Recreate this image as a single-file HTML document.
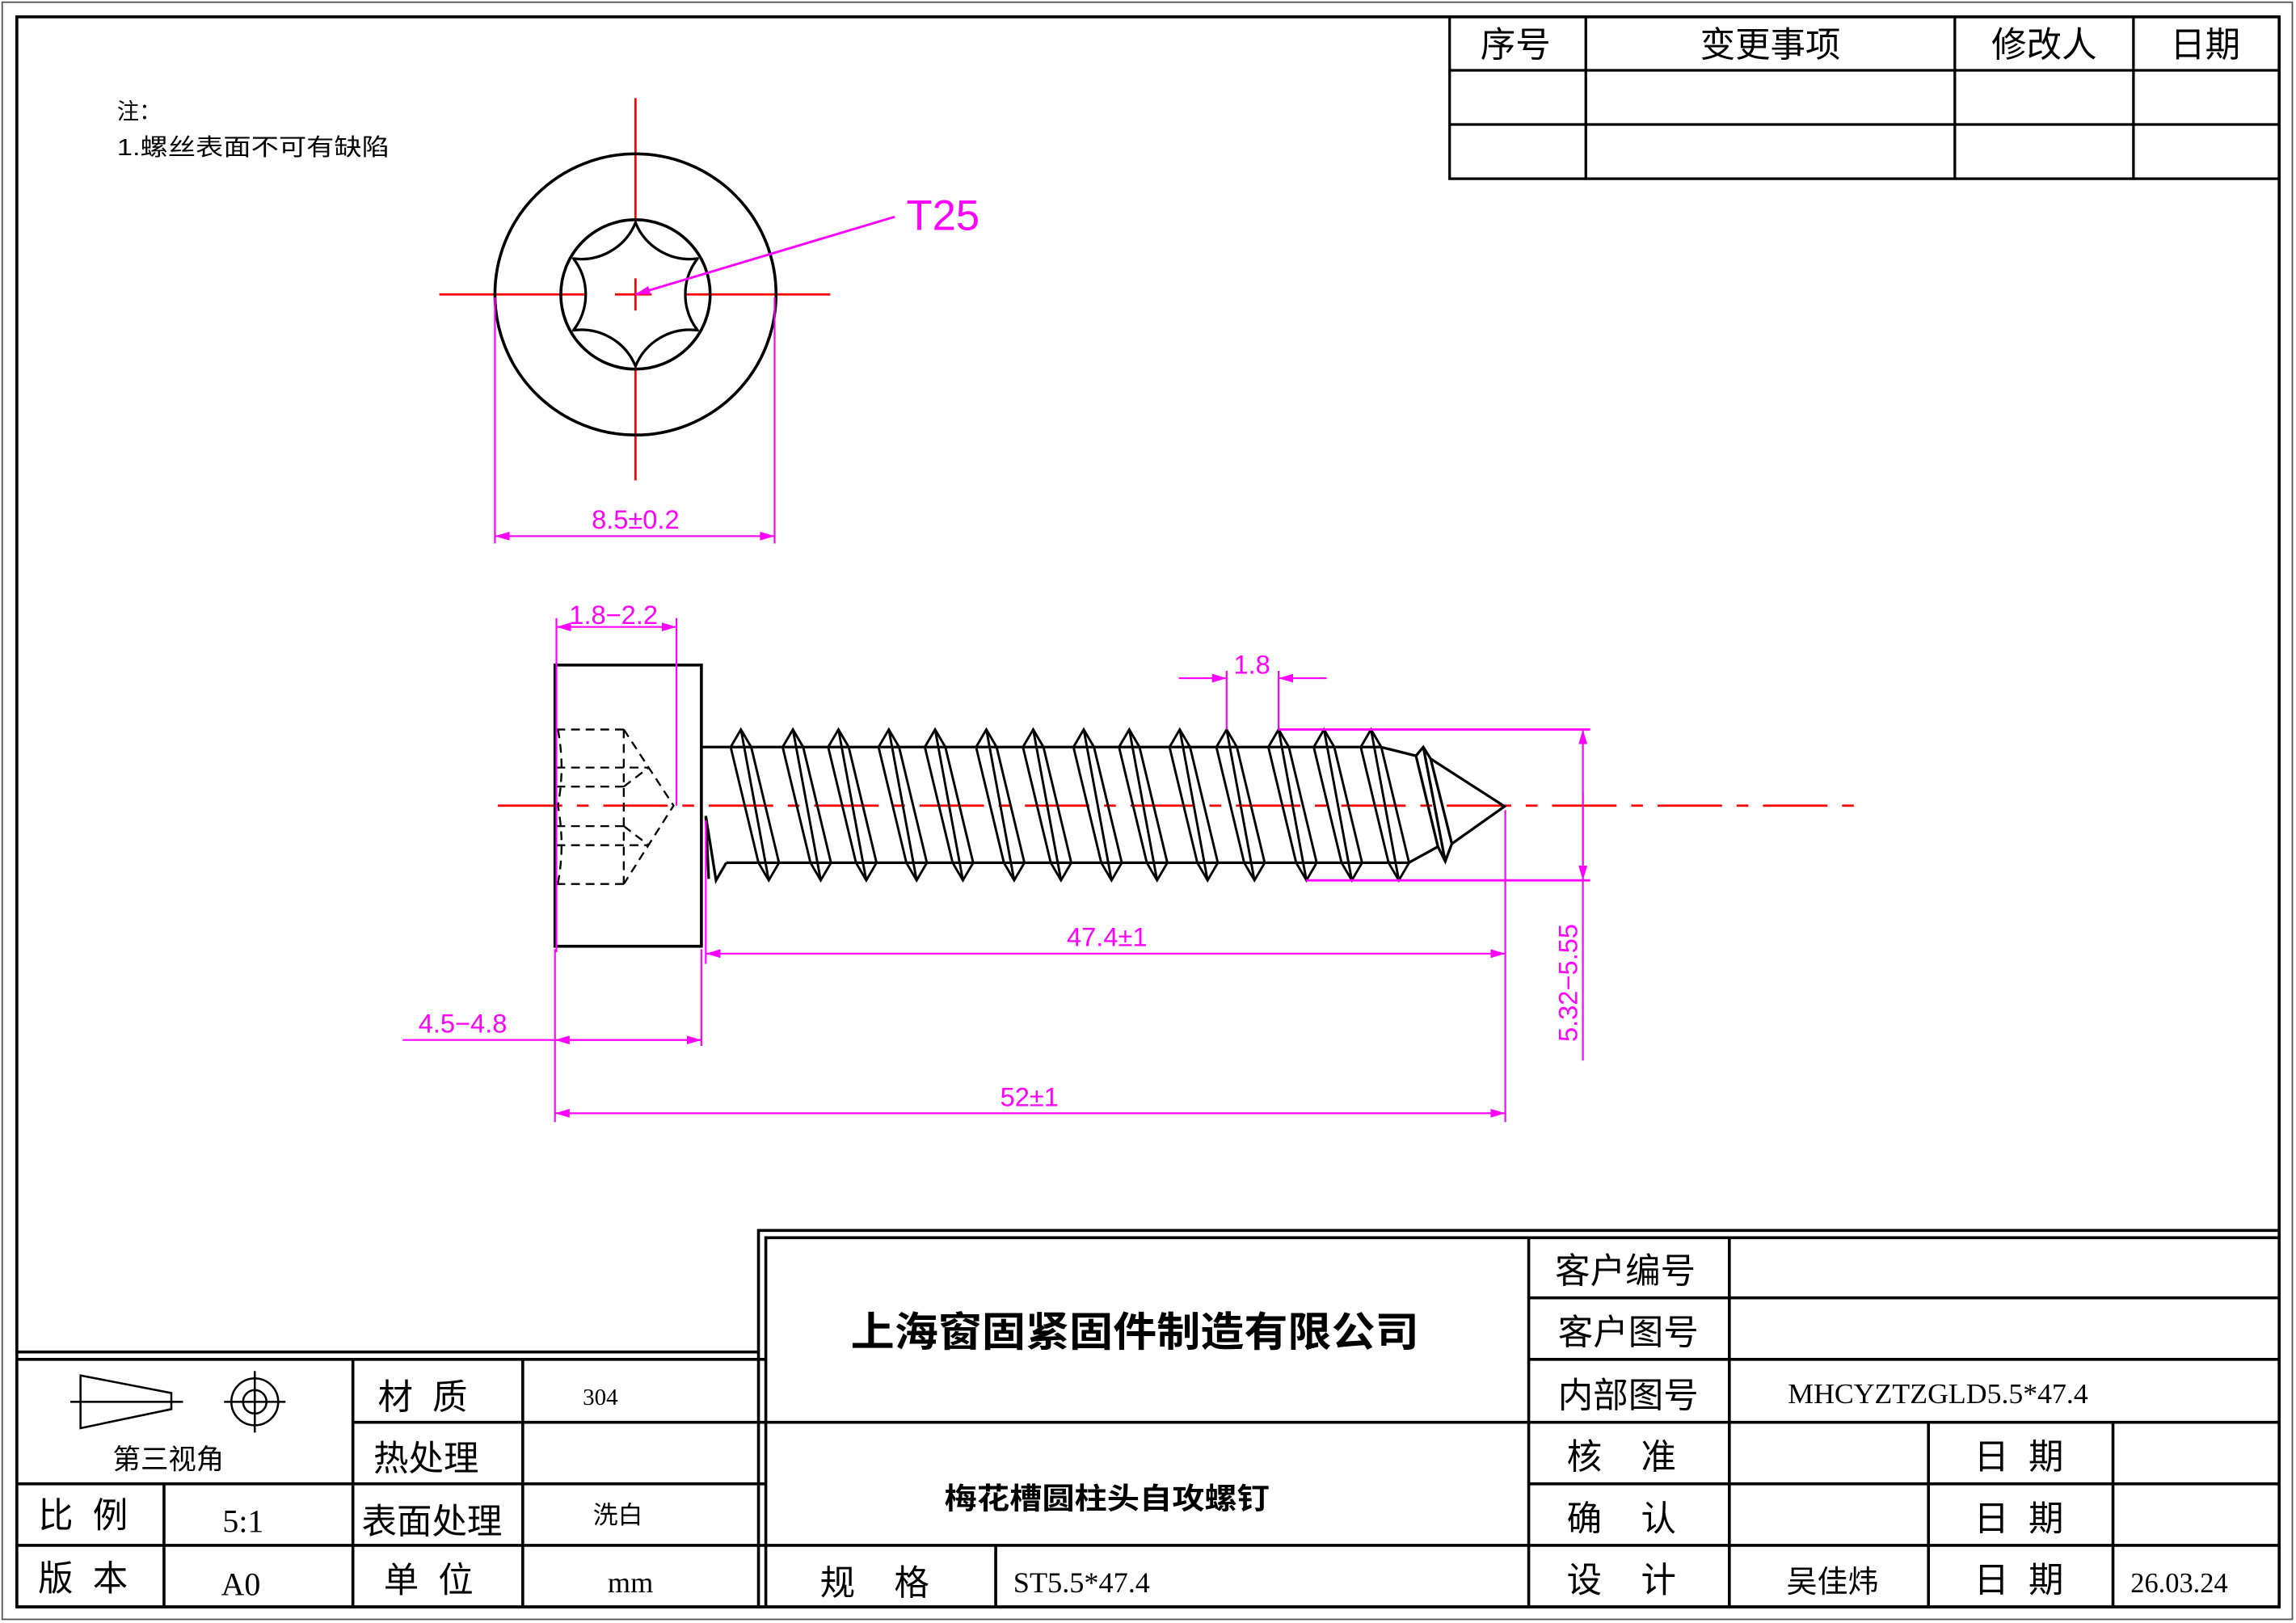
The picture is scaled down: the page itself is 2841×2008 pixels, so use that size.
<!DOCTYPE html>
<html><head><meta charset="utf-8"><style>
html,body{margin:0;padding:0;background:#fff}
svg{display:block}
text{font-family:"Liberation Serif","Noto Serif CJK SC",serif;white-space:pre}
.cn{font-family:"Liberation Sans","Noto Sans CJK SC",sans-serif}
.m{fill:#ff00ff;font-family:"Liberation Sans","DejaVu Sans",sans-serif}
</style></head><body>
<svg width="2841" height="2008" viewBox="0 0 1568 1108" preserveAspectRatio="none" xmlns="http://www.w3.org/2000/svg" xml:space="preserve">
<defs>
<path id="th" d="M-7 510 L0 498 L7 510 M12 589 L19 601 L26 589 M-7 510 L12 589 M0 498 L19 601 M7 510 L26 589" fill="none" stroke="#000" stroke-width="1.6" stroke-linejoin="miter"/>
<marker id="ar" viewBox="0 0 10 6" refX="10" refY="3" markerWidth="10" markerHeight="6" markerUnits="userSpaceOnUse" orient="auto-start-reverse"><path d="M0 0 L10 3 L0 6 Z" fill="#ff00ff"/></marker>
</defs>
<rect width="1568" height="1108" fill="#fff"/>
<rect x="1.5" y="1.5" width="1564" height="1104" fill="none" stroke="#555" stroke-width="1"/>
<rect x="11.5" y="11.5" width="1545" height="1085.5" fill="none" stroke="#000" stroke-width="2"/>

<g stroke="#000" stroke-width="1.8" fill="none">
<path d="M990 11 V122 H1557 M990 48 H1557 M990 85 H1557 M1083 11 V122 M1335 11 V122 M1457 11 V122"/>
</g>
<g font-size="24" text-anchor="middle">
<text x="1035" y="39" class="cn">序号</text>
<text x="1209" y="39" class="cn">变更事项</text>
<text x="1396" y="39" class="cn">修改人</text>
<text x="1506" y="39" class="cn">日期</text>
</g>

<text x="80" y="81" font-size="15" class="cn">注：</text>
<text x="80" y="106" font-size="16" class="cn" textLength="186" lengthAdjust="spacingAndGlyphs">1.螺丝表面不可有缺陷</text>

<g stroke="#ff0000" stroke-width="1.5">
<line x1="300" y1="201" x2="567" y2="201"/>
<line x1="434" y1="67" x2="434" y2="328"/>
</g>
<circle cx="434" cy="201" r="96" fill="none" stroke="#000" stroke-width="2"/>
<circle cx="434" cy="201" r="51" fill="none" stroke="#000" stroke-width="2"/>
<path d="M434 152 A40 40 0 0 0 476.4 176.5 A40 40 0 0 0 476.4 225.5 A40 40 0 0 0 434 250 A40 40 0 0 0 391.6 225.5 A40 40 0 0 0 391.6 176.5 A40 40 0 0 0 434 152 Z" fill="#fff" stroke="#000" stroke-width="1.8" stroke-linejoin="round"/>
<g stroke="#ff0000" stroke-width="1.5"><line x1="420" y1="201" x2="445" y2="201"/><line x1="434" y1="190" x2="434" y2="212"/></g>
<line x1="611" y1="148" x2="434" y2="201" stroke="#ff00ff" stroke-width="1.6" marker-end="url(#ar)"/>
<text x="619" y="157" class="m" font-size="29">T25</text>
<g stroke="#ff00ff" stroke-width="1.2">
<line x1="338" y1="203" x2="338" y2="371"/>
<line x1="529" y1="203" x2="529" y2="371"/>
<line x1="338" y1="366" x2="529" y2="366" marker-start="url(#ar)" marker-end="url(#ar)"/>
</g>
<text x="434" y="361" class="m" font-size="18" text-anchor="middle">8.5±0.2</text>

<line x1="340" y1="550" x2="1268" y2="550" stroke="#ff0000" stroke-width="1.5" stroke-dasharray="44 10 8 10"/>
<rect x="379" y="454" width="100" height="192" fill="none" stroke="#000" stroke-width="2"/>
<g stroke="#000" stroke-width="1.3" fill="none" stroke-dasharray="6 4">
<path d="M380 498 H426 M380 524 H443 M380 537 H426 M380 564 H426 M380 577 H443 M380 603.5 H426"/>
<path d="M426 498 L460 550 L426 603.5 M426 498 V603.5 M426 537 L443 524 M426 564 L443 577"/>
<path d="M381 498 Q386 524 381 550 Q386 577 381 603"/>
</g>
<g stroke="#000" stroke-width="1.8" fill="none">
<path d="M482 557 L489 601 L496 589 M482 557 L484 600"/>
<path d="M943 510 L967 516 L972 510 L977 518 L1027.5 550.5 L991.5 576 L987 588 L982 578 L962 589 M967 516 L982 578 M972 510 L987 588 M977 518 L991.5 576"/>
</g>
<g stroke="#000" stroke-width="1.8"><path d="M479 510 H943 M496 589 H962"/></g>
<use href="#th" x="506"/><use href="#th" x="541.5"/><use href="#th" x="572.6"/><use href="#th" x="607"/>
<use href="#th" x="638.6"/><use href="#th" x="673.6"/><use href="#th" x="705.6"/><use href="#th" x="740.1"/>
<use href="#th" x="771.2"/><use href="#th" x="805.7"/><use href="#th" x="837.7"/><use href="#th" x="873.2"/>
<use href="#th" x="904.2"/><use href="#th" x="936.3"/>

<g stroke="#ff00ff" stroke-width="1.2" fill="none">
<line x1="380" y1="422" x2="380" y2="650"/>
<line x1="462" y1="422" x2="462" y2="550"/>
<line x1="380" y1="428" x2="462" y2="428" marker-start="url(#ar)" marker-end="url(#ar)"/>
<line x1="837.7" y1="458" x2="837.7" y2="498"/>
<line x1="873.2" y1="458" x2="873.2" y2="498"/>
<line x1="805" y1="463" x2="837.7" y2="463" marker-end="url(#ar)"/>
<line x1="906" y1="463" x2="873.2" y2="463" marker-end="url(#ar)"/>
<line x1="873" y1="498" x2="1086" y2="498" stroke-width="1.6"/>
<line x1="892" y1="601" x2="1086" y2="601" stroke-width="1.6"/>
<line x1="1081" y1="498" x2="1081" y2="724" marker-start="url(#ar)"/>
<line x1="1081" y1="540" x2="1081" y2="601" marker-end="url(#ar)"/>
<line x1="482" y1="560" x2="482" y2="658"/>
<line x1="1028" y1="553" x2="1028" y2="766"/>
<line x1="482" y1="651" x2="1028" y2="651" marker-start="url(#ar)" marker-end="url(#ar)"/>
<line x1="479" y1="648" x2="479" y2="714"/>
<line x1="379" y1="648" x2="379" y2="766"/>
<line x1="275" y1="710" x2="479" y2="710"/>
<line x1="379" y1="710" x2="479" y2="710" marker-start="url(#ar)" marker-end="url(#ar)"/>
<line x1="379" y1="760" x2="1028" y2="760" marker-start="url(#ar)" marker-end="url(#ar)"/>
</g>
<g font-size="18" text-anchor="middle">
<text x="419" y="426" class="m">1.8−2.2</text>
<text x="855" y="460" class="m">1.8</text>
<text x="756" y="646" class="m">47.4±1</text>
<text x="316" y="705" class="m">4.5−4.8</text>
<text x="703" y="755" class="m">52±1</text>
<text transform="translate(1077 671) rotate(-90)" class="m">5.32−5.55</text>
</g>

<g stroke="#000" stroke-width="2" fill="none">
<path d="M518 1097 V840 H1557 M523 1097 V845 H1557"/>
<path d="M11 923 H518 M11 928 H523"/>
<path d="M1044 845 V1097 M1181 845 V1097 M1044 886 H1557 M1044 928 H1557"/>
<path d="M523 971 H1557 M1317 971 V1097 M1443 971 V1097 M1044 1013 H1557 M523 1055 H1557 M680 1055 V1097"/>
<path d="M11 1013 H523 M241 971 H523 M11 1055 H523 M112 1013 V1097 M241 928 V1097 M357 928 V1097 M11 1097 H1557"/>
</g>
<g stroke="#000" stroke-width="1.4" fill="none">
<path d="M55 939 L117 951 V962 L55 975 Z M48 957 H125"/>
<circle cx="174" cy="957" r="16"/><circle cx="174" cy="957" r="8"/>
<path d="M174 936 V978 M153 957 H195"/>
</g>
<g font-size="21">
<text x="115" y="1003" text-anchor="middle" class="cn" font-size="19">第三视角</text>
<text x="258" y="962" class="cn" font-size="24">材  质</text>
<text x="398" y="959" font-size="16">304</text>
<text x="255" y="1004" class="cn" font-size="24">热处理</text>
<text x="26" y="1043" class="cn" font-size="24">比  例</text>
<text x="152" y="1046" font-size="22">5:1</text>
<text x="247" y="1047" class="cn" font-size="24">表面处理</text>
<text x="405" y="1040" class="cn" font-size="17">洗白</text>
<text x="26" y="1086" class="cn" font-size="24">版  本</text>
<text x="151" y="1089" font-size="22">A0</text>
<text x="262" y="1087" class="cn" font-size="24">单  位</text>
<text x="415" y="1087" font-size="20">mm</text>
<text x="581" y="919" class="cn" font-size="28" font-weight="bold" textLength="388" lengthAdjust="spacingAndGlyphs">上海窗固紧固件制造有限公司</text>
<text x="645" y="1030" class="cn" font-size="20" font-weight="bold" textLength="222" lengthAdjust="spacingAndGlyphs">梅花槽圆柱头自攻螺钉</text>
<text x="560" y="1089" class="cn" font-size="24">规    格</text>
<text x="692" y="1087" font-size="20">ST5.5*47.4</text>
<text x="1062" y="876" class="cn" font-size="24">客户编号</text>
<text x="1064" y="918" class="cn" font-size="24">客户图号</text>
<text x="1064" y="961" class="cn" font-size="24">内部图号</text>
<text x="1221" y="958" font-size="19" textLength="205" lengthAdjust="spacingAndGlyphs">MHCYZTZGLD5.5*47.4</text>
<text x="1070" y="1003" class="cn" font-size="24">核    准</text>
<text x="1070" y="1045" class="cn" font-size="24">确    认</text>
<text x="1070" y="1087" class="cn" font-size="24">设    计</text>
<text x="1220" y="1087" class="cn" font-size="21">吴佳炜</text>
<text x="1348" y="1003" class="cn" font-size="24">日  期</text>
<text x="1348" y="1045" class="cn" font-size="24">日  期</text>
<text x="1348" y="1087" class="cn" font-size="24">日  期</text>
<text x="1455" y="1087" font-size="19">26.03.24</text>
</g>
</svg>
</body></html>
